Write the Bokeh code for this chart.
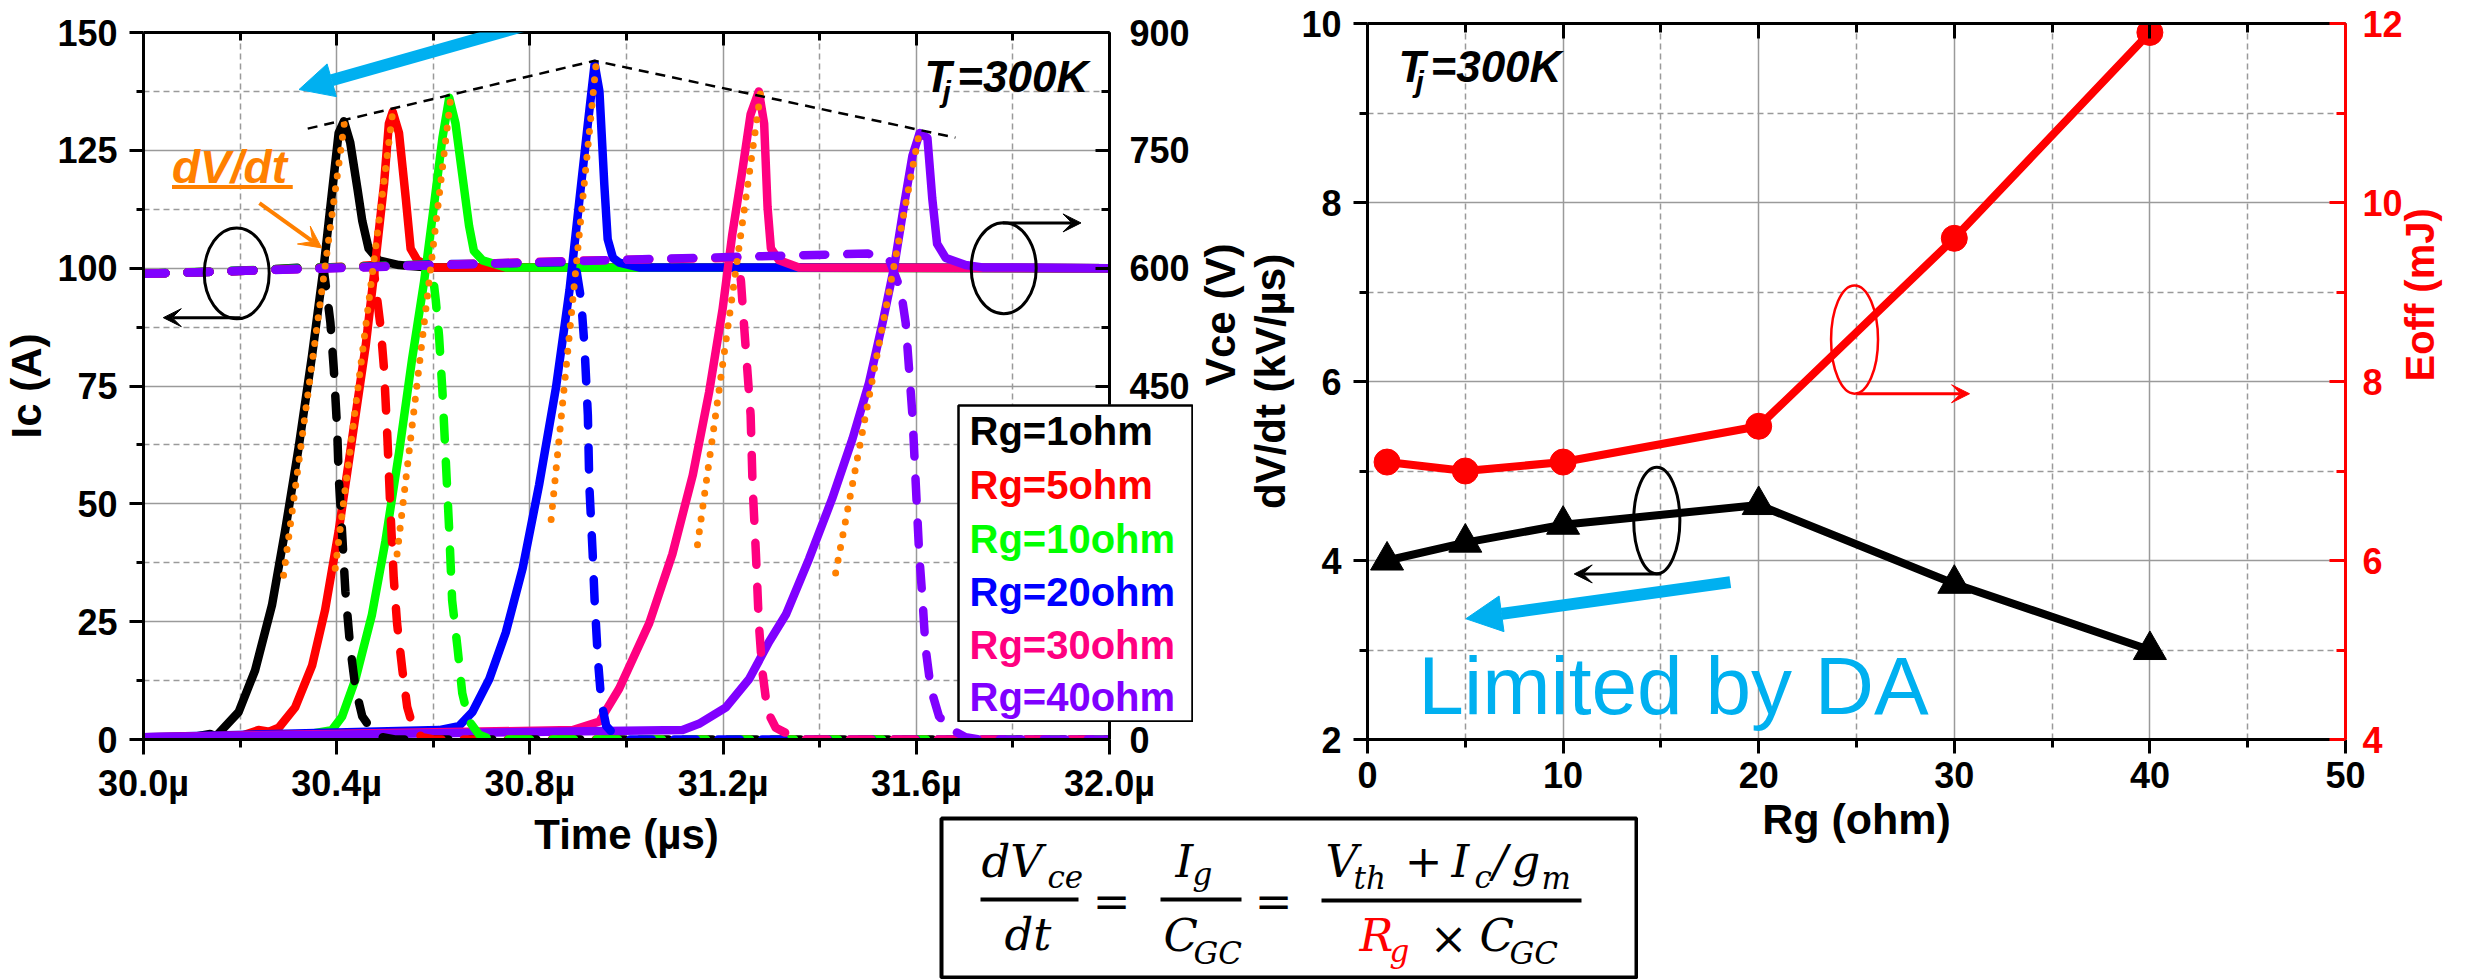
import math
from bokeh.plotting import figure
from bokeh.models import (Range1d, LinearAxis, FixedTicker, PrintfTickFormatter, Label,
                          Arrow, NormalHead, VeeHead)
from bokeh.embed import file_html
from bokeh.resources import INLINE

# ---------------- turn-off waveforms, Tj = 300 K ----------------
rg_labels = ["Rg=1ohm", "Rg=5ohm", "Rg=10ohm", "Rg=20ohm", "Rg=30ohm", "Rg=40ohm"]
rg_colors = ["#000000", "#FF0000", "#00FF00", "#0000FF", "#FF0080", "#8000FF"]

time_ticks = [30.0, 30.4, 30.8, 31.2, 31.6, 32.0]
time_minor = [30.2, 30.6, 31.0, 31.4, 31.8]
ic_ticks = [0, 25, 50, 75, 100, 125, 150]
ic_minor = [12.5, 37.5, 62.5, 87.5, 112.5, 137.5]
vce_ticks = [0, 150, 300, 450, 600, 750, 900]
vce_minor = [75, 225, 375, 525, 675, 825]

# Vce (solid), time in µs, voltage in V
vce_t_rg1 = [30.00, 30.10, 30.138, 30.15, 30.162, 30.197, 30.231, 30.266, 30.293, 30.321, 30.349, 30.373,
             30.390, 30.404, 30.415, 30.428, 30.443, 30.453, 30.466, 30.487, 30.529, 30.584, 32.00]
vce_rg1 = [2, 3, 7, 4, 12, 35, 88, 171, 265, 371, 489, 601, 695, 772, 787, 760, 701, 660, 625, 610, 604, 601, 600]
vce_t_rg5 = [30.00, 30.20, 30.238, 30.26, 30.28, 30.314, 30.349, 30.376, 30.404, 30.432, 30.460, 30.480,
             30.498, 30.508, 30.516, 30.529, 30.543, 30.553, 30.567, 30.598, 32.00]
vce_rg5 = [2, 4, 12, 10, 15, 41, 94, 165, 265, 383, 501, 607, 707, 784, 799, 772, 689, 625, 610, 601, 600]
vce_t_rg10 = [30.00, 30.335, 30.390, 30.411, 30.439, 30.473, 30.501, 30.529, 30.556, 30.581, 30.601, 30.619,
              30.633, 30.646, 30.660, 30.674, 30.684, 30.702, 30.750, 32.00]
vce_rg10 = [2, 6, 12, 29, 77, 159, 253, 365, 484, 583, 678, 766, 817, 784, 719, 654, 622, 610, 601, 600]
vce_t_rg20 = [30.00, 30.612, 30.653, 30.681, 30.716, 30.750, 30.785, 30.819, 30.854, 30.882, 30.902, 30.920,
              30.934, 30.944, 30.954, 30.961, 30.972, 30.985, 31.026, 32.00]
vce_rg20 = [3, 12, 17, 35, 77, 136, 218, 324, 448, 572, 684, 784, 860, 825, 707, 637, 613, 607, 601, 600]
vce_t_rg30 = [30.00, 30.889, 30.944, 30.985, 31.047, 31.095, 31.137, 31.171, 31.199, 31.219, 31.240, 31.257,
              31.274, 31.285, 31.292, 31.299, 31.316, 31.357, 32.00]
vce_rg30 = [3, 12, 23, 65, 148, 236, 336, 442, 548, 643, 725, 796, 825, 784, 678, 625, 610, 601, 600]
vce_t_rg40 = [30.00, 31.116, 31.150, 31.206, 31.254, 31.295, 31.330, 31.378, 31.426, 31.468, 31.502, 31.530,
              31.554, 31.574, 31.592, 31.607, 31.623, 31.633, 31.643, 31.661, 31.702, 31.737, 32.00]
vce_rg40 = [3, 12, 20, 41, 77, 124, 159, 230, 307, 383, 454, 530, 601, 678, 743, 772, 766, 689, 631, 613,
            604, 601, 600]

# Ic (dashed), time in µs, current in A
ic_t_rg1 = [30.00, 30.20, 30.36, 30.373, 30.380, 30.387, 30.394, 30.401, 30.404, 30.411, 30.418, 30.428,
            30.439, 30.453, 30.473, 30.494, 30.52, 32.00]
ic_rg1 = [98.8, 99.4, 100.3, 99.8, 94.3, 88.4, 78.6, 65.8, 56.0, 44.2, 31.4, 19.6, 10.8, 4.9, 2.0, 0.5, 0.0, 0.0]
ic_t_rg5 = [30.00, 30.30, 30.470, 30.477, 30.484, 30.491, 30.498, 30.505, 30.511, 30.518, 30.525, 30.536,
            30.546, 30.560, 30.577, 30.60, 32.00]
ic_rg5 = [98.8, 99.8, 100.6, 99.5, 93.3, 87.4, 78.6, 63.9, 49.1, 34.4, 24.6, 14.7, 6.9, 2.0, 0.5, 0.0, 0.0]
ic_t_rg10 = [30.00, 30.40, 30.590, 30.598, 30.605, 30.612, 30.619, 30.626, 30.633, 30.639, 30.650, 30.660,
             30.674, 30.695, 30.72, 32.00]
ic_rg10 = [98.8, 100.2, 100.8, 99.5, 93.3, 85.5, 73.7, 58.9, 44.2, 29.5, 19.6, 9.8, 3.9, 1.0, 0.0, 0.0]
ic_t_rg20 = [30.00, 30.60, 30.888, 30.896, 30.906, 30.913, 30.920, 30.923, 30.930, 30.934, 30.941, 30.948,
             30.958, 30.975, 31.00, 32.00]
ic_rg20 = [98.8, 100.8, 101.3, 99.8, 93.3, 83.5, 68.8, 54.0, 39.3, 29.5, 16.7, 7.9, 2.9, 1.0, 0.0, 0.0]
ic_t_rg30 = [30.00, 30.90, 31.23, 31.237, 31.243, 31.250, 31.257, 31.261, 31.268, 31.274, 31.281, 31.292,
             31.309, 31.337, 31.36, 32.00]
ic_rg30 = [98.8, 101.6, 102.2, 97.2, 88.4, 78.6, 68.8, 54.0, 39.3, 24.6, 14.7, 5.9, 2.5, 1.0, 0.0, 0.0]
ic_t_rg40 = [30.00, 31.00, 31.50, 31.545, 31.550, 31.568, 31.578, 31.585, 31.592, 31.599, 31.606, 31.613,
             31.619, 31.630, 31.647, 31.674, 31.702, 31.73, 32.00]
ic_rg40 = [98.8, 101.8, 103.1, 101.5, 100.2, 95.3, 88.4, 78.6, 68.8, 54.0, 39.3, 29.5, 19.6, 10.8, 4.9,
           2.0, 0.5, 0.0, 0.0]

# straight dV/dt fits on the rising Vce edges (start/end time in µs, voltage in V)
fit_t0 = [30.290, 30.397, 30.525, 30.844, 31.147, 31.433]
fit_v0 = [209, 218, 236, 280, 248, 212]
fit_t1 = [30.417, 30.516, 30.636, 30.937, 31.278, 31.606]
fit_v1 = [790, 799, 817, 860, 825, 772]

# ---------------- dV/dt and Eoff versus gate resistance ----------------
rg_ohm = [1, 5, 10, 20, 30, 40]
dvdt_kv_us = [4.0, 4.2, 4.4, 4.62, 3.74, 3.0]
eoff_mj = [7.1, 7.0, 7.1, 7.5, 9.6, 11.9]
rg_ticks = [0, 10, 20, 30, 40, 50]
rg_minor = [5, 15, 25, 35, 45]
dvdt_ticks = [2, 4, 6, 8, 10]
dvdt_minor = [3, 5, 7, 9]
eoff_ticks = [4, 6, 8, 10, 12]
eoff_minor = [5, 7, 9, 11]

SANS = "Liberation Sans"
SERIF = "DejaVu Serif"
CYAN = "#00B0F0"
ORANGE = "#FF8000"
GRID = "#9a9a9a"


def style_axis(ax, tick_out=0, tick_in=0, minor_out=0, minor_in=0, standoff=12, color="black",
               title_size="42px"):
    ax.axis_line_width = 3
    ax.axis_line_color = color
    ax.major_tick_line_width = 3
    ax.minor_tick_line_width = 3
    ax.major_tick_line_color = color
    ax.minor_tick_line_color = color
    ax.major_tick_out = tick_out
    ax.major_tick_in = tick_in
    ax.minor_tick_out = minor_out
    ax.minor_tick_in = minor_in
    ax.major_label_standoff = standoff
    ax.major_label_text_font = SANS
    ax.major_label_text_font_style = "bold"
    ax.major_label_text_font_size = "36px"
    ax.major_label_text_color = color
    ax.axis_label_text_font = SANS
    ax.axis_label_text_font_style = "bold"
    ax.axis_label_text_font_size = title_size
    ax.axis_label_text_color = color
    ax.axis_label_standoff = 4


def read_upward(ax):
    # right-hand titles read bottom-to-top like the left ones
    try:
        ax.axis_label_orientation = math.pi / 2
    except Exception:
        pass


def hide_labels(ax):
    ax.major_label_text_font_size = "0px"
    ax.major_label_text_color = None


def style_grid(p, xt, yt):
    for g, t in ((p.xgrid, xt), (p.ygrid, yt)):
        g.ticker = t
        g.grid_line_color = GRID
        g.grid_line_width = 1.5
        g.minor_grid_line_color = GRID
        g.minor_grid_line_width = 1.5
        g.minor_grid_line_dash = "6 4"


def add_text(p, x, y, text, size, color="black", style="bold", font=SANS, align="left",
             baseline="middle", y_range_name="default"):
    p.add_layout(Label(x=x, y=y, text=text, text_font=font, text_font_style=style,
                       text_font_size=size, text_color=color, text_align=align,
                       text_baseline=baseline, y_range_name=y_range_name))


def place(p, left_px, top_px):
    p.styles = {"position": "absolute", "left": f"{left_px}px", "top": f"{top_px}px"}


# ======================= left panel: switching waveforms =======================
left = figure(width=1270, height=860, x_range=Range1d(30.0, 32.0), y_range=Range1d(0, 150),
              output_backend="svg", toolbar_location=None,
              min_border_left=143, min_border_right=160, min_border_top=32, min_border_bottom=121)
left.extra_y_ranges = {"vce": Range1d(0, 900)}
left.outline_line_color = None
left.border_fill_color = None

t_tick = FixedTicker(ticks=time_ticks, minor_ticks=time_minor)
ic_tick = FixedTicker(ticks=ic_ticks, minor_ticks=ic_minor)
v_tick = FixedTicker(ticks=vce_ticks, minor_ticks=vce_minor)

bx = left.xaxis[0]
bx.ticker = t_tick
bx.formatter = PrintfTickFormatter(format="%.1fµ")
bx.axis_label = "Time (µs)"
style_axis(bx, tick_out=15, minor_out=8, standoff=8)
ly = left.yaxis[0]
ly.ticker = ic_tick
ly.axis_label = "Ic (A)"
style_axis(ly, tick_out=14, minor_out=7, standoff=12)

top_ax = LinearAxis(ticker=t_tick)
style_axis(top_ax, tick_in=13, minor_in=8)
hide_labels(top_ax)
left.add_layout(top_ax, "above")

vce_ax = LinearAxis(y_range_name="vce", ticker=v_tick, axis_label="Vce (V)")
style_axis(vce_ax, tick_in=14, minor_in=8, standoff=20)
vce_ax.axis_label_standoff = 28
read_upward(vce_ax)
left.add_layout(vce_ax, "right")

style_grid(left, t_tick, ic_tick)

vce_series = [(vce_t_rg1, vce_rg1), (vce_t_rg5, vce_rg5), (vce_t_rg10, vce_rg10),
              (vce_t_rg20, vce_rg20), (vce_t_rg30, vce_rg30), (vce_t_rg40, vce_rg40)]
ic_series = [(ic_t_rg1, ic_rg1), (ic_t_rg5, ic_rg5), (ic_t_rg10, ic_rg10),
             (ic_t_rg20, ic_rg20), (ic_t_rg30, ic_rg30), (ic_t_rg40, ic_rg40)]

for (t, v), c in zip(vce_series, rg_colors):
    left.line(t, v, y_range_name="vce", line_color=c, line_width=8.5, line_join="round")
for (t, i), c in zip(ic_series, rg_colors):
    left.line(t, i, line_color=c, line_width=8.5, line_dash="22 22", line_cap="round",
              line_join="round")
for t0, v0, t1, v1 in zip(fit_t0, fit_v0, fit_t1, fit_v1):
    left.line([t0, t1], [v0, v1], y_range_name="vce", line_color=ORANGE, line_width=7,
              line_dash="0 13", line_cap="round")

# envelope through the overshoot peaks
left.line([30.340, 30.934, 31.681], [129.6, 144.0, 127.7], line_color="black", line_width=2.5,
          line_dash="10 7")

# axis pointers: ellipse + arrow
left.ellipse(x=[30.193, 31.781], y=[98.9, 100.0], width=0.1345, height=19.3,
             fill_color=None, line_color="black", line_width=3)
left.add_layout(Arrow(end=VeeHead(size=18, fill_color="black", line_color="black"),
                      x_start=30.200, y_start=89.5, x_end=30.041, y_end=89.5,
                      line_color="black", line_width=3))
left.add_layout(Arrow(end=VeeHead(size=18, fill_color="black", line_color="black"),
                      x_start=31.779, y_start=109.6, x_end=31.941, y_end=109.6,
                      line_color="black", line_width=3))

# trend arrow and dV/dt callout
left.add_layout(Arrow(end=NormalHead(size=34, fill_color=CYAN, line_color=CYAN),
                      x_start=30.787, y_start=151.4, x_end=30.322, y_end=137.9,
                      line_color=CYAN, line_width=12))
add_text(left, 30.059, 121.5, "dV/dt", "46px", color=ORANGE, style="bold italic")
left.segment(x0=[30.059], y0=[117.2], x1=[30.309], y1=[117.2], line_color=ORANGE, line_width=4)
left.add_layout(Arrow(end=VeeHead(size=22, fill_color=ORANGE, line_color=ORANGE),
                      x_start=30.240, y_start=113.8, x_end=30.369, y_end=104.3,
                      line_color=ORANGE, line_width=4))

# junction temperature tag
add_text(left, 31.617, 140.7, "T", "44px", style="bold italic")
add_text(left, 31.654, 137.5, "j", "30px", style="bold italic")
add_text(left, 31.685, 140.7, "=300K", "44px", style="bold italic")

# ---- legend box, laid over the waveform panel ----
legend = figure(width=236, height=318, x_range=Range1d(0, 234), y_range=Range1d(316, 0),
                output_backend="svg", toolbar_location=None, min_border=1,
                x_axis_location=None, y_axis_location=None)
legend.grid.visible = False
legend.outline_line_color = "black"
legend.outline_line_width = 2.5
legend_y = [25, 79, 133, 186, 239, 291]
for name, c, yy in zip(rg_labels, rg_colors, legend_y):
    add_text(legend, 11, yy, name, "40px", color=c)

# ======================= right panel: dV/dt and Eoff =======================
right = figure(width=1226, height=860, x_range=Range1d(0, 50), y_range=Range1d(2, 10),
               output_backend="svg", toolbar_location=None,
               min_border_left=127, min_border_right=120, min_border_top=23, min_border_bottom=121)
right.extra_y_ranges = {"eoff": Range1d(4, 12)}
right.outline_line_color = None
right.border_fill_color = None

rg_tick = FixedTicker(ticks=rg_ticks, minor_ticks=rg_minor)
dv_tick = FixedTicker(ticks=dvdt_ticks, minor_ticks=dvdt_minor)
e_tick = FixedTicker(ticks=eoff_ticks, minor_ticks=eoff_minor)

rbx = right.xaxis[0]
rbx.ticker = rg_tick
rbx.axis_label = "Rg (ohm)"
style_axis(rbx, tick_out=14, minor_out=8, standoff=8, title_size="43px")
rly = right.yaxis[0]
rly.ticker = dv_tick
rly.axis_label = "dV/dt (kV/µs)"
style_axis(rly, tick_out=14, minor_out=8, standoff=12)

rtop = LinearAxis(ticker=rg_tick)
style_axis(rtop, tick_in=15, minor_in=9)
hide_labels(rtop)
right.add_layout(rtop, "above")

eoff_ax = LinearAxis(y_range_name="eoff", ticker=e_tick, axis_label="Eoff (mJ)")
style_axis(eoff_ax, tick_in=16, minor_in=9, standoff=17, color="#FF0000", title_size="40px")
eoff_ax.axis_label_standoff = 14
read_upward(eoff_ax)
right.add_layout(eoff_ax, "right")

style_grid(right, rg_tick, dv_tick)

right.line(rg_ohm, eoff_mj, y_range_name="eoff", line_color="#FF0000", line_width=8)
right.scatter(rg_ohm, eoff_mj, y_range_name="eoff", marker="circle", size=26,
              fill_color="#FF0000", line_color="#FF0000")
right.line(rg_ohm, dvdt_kv_us, line_color="black", line_width=8)
right.scatter(rg_ohm, dvdt_kv_us, marker="triangle", size=33, fill_color="black",
              line_color="black")

right.ellipse(x=[14.79], y=[4.447], width=2.36, height=1.19, fill_color=None,
              line_color="black", line_width=3)
right.add_layout(Arrow(end=VeeHead(size=18, fill_color="black", line_color="black"),
                       x_start=15.02, y_start=3.85, x_end=10.57, y_end=3.85,
                       line_color="black", line_width=3))
right.ellipse(x=[24.9], y=[8.469], width=2.4, height=1.21, y_range_name="eoff",
              fill_color=None, line_color="#FF0000", line_width=2.5)
right.add_layout(Arrow(end=VeeHead(size=18, fill_color="#FF0000", line_color="#FF0000"),
                       x_start=25.0, y_start=7.863, x_end=30.78, y_end=7.863,
                       y_range_name="eoff", line_color="#FF0000", line_width=3))

right.add_layout(Arrow(end=NormalHead(size=36, fill_color=CYAN, line_color=CYAN),
                       x_start=18.55, y_start=3.758, x_end=5.03, y_end=3.349,
                       line_color=CYAN, line_width=12))
add_text(right, 2.6, 2.603, "Limited by DA", "82px", color=CYAN, style="normal")

add_text(right, 1.58, 9.525, "T", "44px", style="bold italic")
add_text(right, 2.45, 9.355, "j", "30px", style="bold italic")
add_text(right, 3.22, 9.525, "=300K", "44px", style="bold italic")

# ======================= dV/dt relation box =======================
eq = figure(width=699, height=163, x_range=Range1d(0, 695), y_range=Range1d(159, 0),
            output_backend="svg", toolbar_location=None, min_border=2,
            x_axis_location=None, y_axis_location=None)
eq.grid.visible = False
eq.outline_line_color = "black"
eq.outline_line_width = 4

MAIN = "45px"
SUB = "31px"
eq_tokens = [
    (40, 43, "dV", MAIN, "black"), (106, 58, "ce", SUB, "black"),
    (63, 116, "dt", MAIN, "black"),
    (234, 43, "I", MAIN, "black"), (251, 55, "g", SUB, "black"),
    (222, 117, "C", MAIN, "black"), (252, 134, "GC", SUB, "black"),
    (384, 43, "V", MAIN, "black"), (412, 59, "th", SUB, "black"),
    (510, 43, "I", MAIN, "black"), (533, 58, "c", SUB, "black"),
    (551, 43, "/", MAIN, "black"),
    (570, 43, "g", MAIN, "black"), (600, 59, "m", SUB, "black"),
    (418, 117, "R", MAIN, "#FF0000"), (448, 132, "g", SUB, "#FF0000"),
    (538, 117, "C", MAIN, "black"), (568, 134, "GC", SUB, "black"),
]
for x, y, s, fs, c in eq_tokens:
    add_text(eq, x, y, s, fs, color=c, style="italic", font=SERIF)
for x, y, s in [(170, 83, "="), (332, 83, "="), (482, 42, "+"), (507, 120, "×")]:
    add_text(eq, x, y, s, MAIN, style="normal", font=SERIF, align="center")
eq.segment(x0=[39, 219, 380], y0=[81, 81, 82], x1=[137, 300, 640], y1=[81, 81, 82],
           line_color="black", line_width=4)

place(left, 0, 0)
place(right, 1240, 0)
place(legend, 957, 404)
place(eq, 939, 816)

open("out.html", "w").write(file_html([left, right, legend, eq], INLINE))
